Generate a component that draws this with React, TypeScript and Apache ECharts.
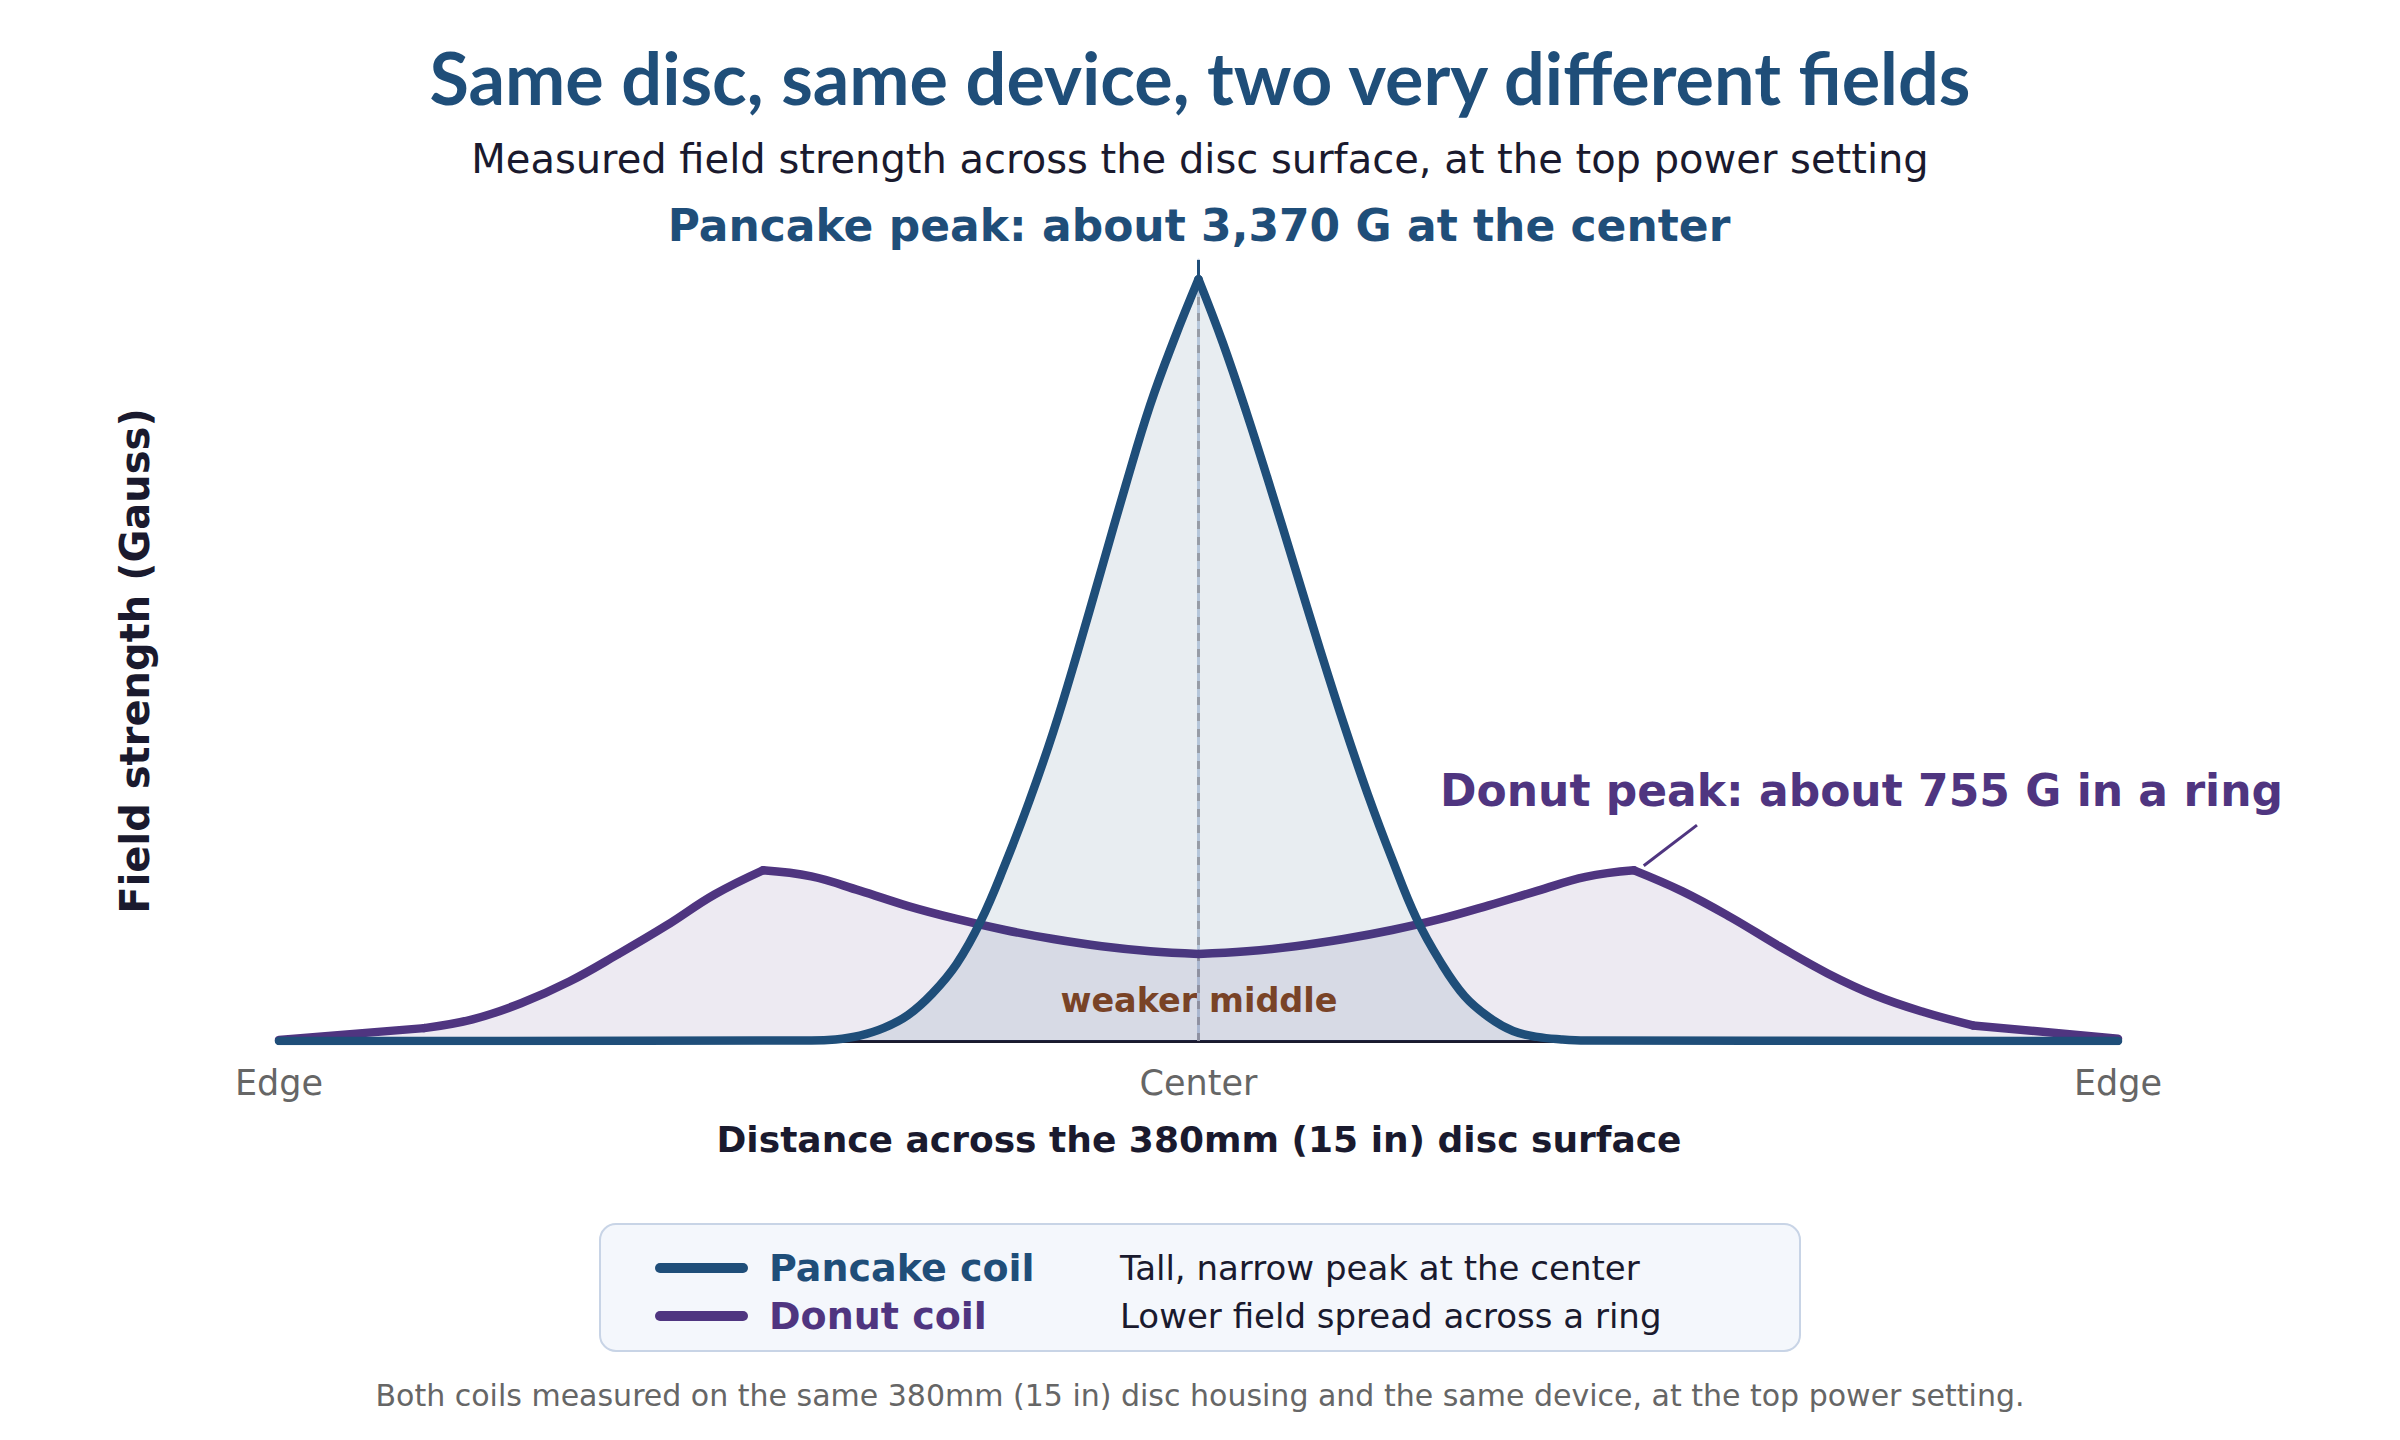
import React, { useEffect, useRef } from "react";
import * as echarts from "echarts";

// ---- data (mm from disc center, Gauss) ----
const tickValues = [-190, 0, 190];
const tickLabels = ["Edge", "Center", "Edge"];

const pancakeX = [-190, -80, -75, -70, -65, -60, -55, -50, -45, -40, -35, -30, -25, -20, -15, -10, -5, 0,
  5, 10, 15, 20, 25, 30, 35, 40, 45, 50, 55, 60, 65, 70, 75, 80, 190];
const pancakeY = [0, 2, 7, 24, 58, 115, 210, 340, 530, 780, 1059, 1368, 1720, 2091, 2462, 2813, 3105, 3370,
  3090, 2775, 2438, 2089, 1740, 1404, 1090, 805, 544, 350, 198, 105, 44, 18, 7, 2, 0];
const pancakeKinks = [0];

const donutX = [-190, -160, -150, -140, -130, -120, -110, -100, -90, -80, -70, -60, -50, -40, -30, -20, -10, 0,
  10, 20, 30, 40, 50, 60, 70, 80, 90, 100, 110, 120, 130, 140, 150, 160, 190];
const donutY = [5, 57, 96, 167, 263, 383, 510, 648, 755, 728, 665, 597, 540, 491, 451, 419, 397, 385,
  397, 419, 451, 491, 540, 600, 664, 726, 755, 662, 547, 419, 299, 200, 127, 69, 10];
const donutKinks = [-160, -90, 0, 90, 160];

const pancakePeak = 3370;
const donutPeakLeader = [[92, 775], [103, 955]];
const yMax = 3455;

const NAVY = "#1f4e79";
const PURPLE = "#4f3580";
const INK = "#1a1a2e";
const FONT = "DejaVu Sans";

function segments(xs: number[], ys: number[], kinks: number[]) {
  const segs: number[][][] = [];
  let cur: number[][] = [];
  xs.forEach((x, i) => {
    cur.push([x, ys[i]]);
    if (kinks.includes(x) && cur.length > 1) {
      segs.push(cur);
      cur = [[x, ys[i]]];
    }
  });
  if (cur.length > 1) segs.push(cur);
  return segs;
}

function curveSeries(name: string, color: string, fill: string, segs: number[][][], z: number) {
  return segs.map((d) => ({
    type: "line",
    name,
    data: d,
    smooth: d.length > 2 ? 0.4 : false,
    symbol: "none",
    silent: true,
    z,
    lineStyle: { color, width: 8.5, cap: "round", join: "round" },
    areaStyle: { color: fill, opacity: 1 },
  }));
}

function txt(text: string, x: number, y: number, font: string, fill: string, align = "center", extra: any = {}) {
  return {
    type: "text",
    x,
    y,
    silent: true,
    ...extra,
    style: {
      text,
      font,
      fill,
      align,
      verticalAlign: "middle",
      textAlign: align,
      textVerticalAlign: "middle",
    },
  };
}

export default function App() {
  const ref = useRef<HTMLDivElement>(null);
  useEffect(() => {
    if (!ref.current) return;
    const chart = echarts.init(ref.current, undefined, { renderer: "svg" });
    const option: any = {
      animation: false,
      backgroundColor: "#ffffff",
      grid: { left: 279, right: 282, top: 260, bottom: 399, containLabel: false },
      xAxis: {
        type: "value",
        min: -190,
        max: 190,
        interval: 190,
        axisLine: { show: true, lineStyle: { color: INK, width: 3 } },
        axisTick: { show: false },
        splitLine: { show: false },
        axisLabel: {
          show: true,
          showMinLabel: true,
          showMaxLabel: true,
          margin: 24,
          fontSize: 35,
          fontFamily: FONT,
          color: "#666666",
          formatter: (v: number) => {
            const i = tickValues.indexOf(v);
            return i >= 0 ? tickLabels[i] : "";
          },
        },
      },
      yAxis: {
        type: "value",
        min: 0,
        max: yMax,
        axisLine: { show: true, lineStyle: { color: "#c8d4e6", width: 3 } },
        axisTick: { show: false },
        axisLabel: { show: false },
        splitLine: { show: false },
      },
      series: [
        {
          type: "line",
          data: [[0, 0], [0, pancakePeak]],
          symbol: "none",
          silent: true,
          z: 1,
          lineStyle: { color: "#a6a6ad", width: 3, type: [8, 8] },
        },
        ...curveSeries("Donut coil", PURPLE, "rgba(79,53,128,0.10)", segments(donutX, donutY, donutKinks), 2),
        ...curveSeries("Pancake coil", NAVY, "rgba(31,78,121,0.10)", segments(pancakeX, pancakeY, pancakeKinks), 3),
        {
          type: "line",
          data: [[0, pancakePeak], [0, yMax]],
          symbol: "none",
          silent: true,
          z: 4,
          lineStyle: { color: NAVY, width: 3 },
        },
        {
          type: "line",
          data: donutPeakLeader,
          symbol: "none",
          silent: true,
          z: 4,
          lineStyle: { color: PURPLE, width: 3 },
        },
      ],
      graphic: [
        txt("Same disc, same device, two very different fields", 1200, 77, `bold 72px Lato`, NAVY),
        txt("Measured field strength across the disc surface, at the top power setting", 1200, 159, `40px '${FONT}'`, INK),
        txt("Pancake peak: about 3,370 G at the center", 1199, 225, `bold 44px '${FONT}'`, NAVY),
        txt("Donut peak: about 755 G in a ring", 1440, 790, `bold 44px '${FONT}'`, PURPLE, "left"),
        txt("weaker middle", 1199, 1000, `bold 33.5px '${FONT}'`, "#8b4513"),
        txt("Field strength (Gauss)", 135, 661, `bold 40px '${FONT}'`, INK, "center", { rotation: Math.PI / 2 }),
        txt("Distance across the 380mm (15 in) disc surface", 1199, 1139, `bold 36px '${FONT}'`, INK),
        {
          type: "rect",
          silent: true,
          shape: { x: 600, y: 1224, width: 1200, height: 127, r: 16 },
          style: { fill: "#f4f7fc", stroke: "#c8d4e6", lineWidth: 2 },
        },
        {
          type: "line",
          silent: true,
          shape: { x1: 660, y1: 1268, x2: 743, y2: 1268 },
          style: { stroke: NAVY, lineWidth: 10, lineCap: "round" },
        },
        {
          type: "line",
          silent: true,
          shape: { x1: 660, y1: 1316, x2: 743, y2: 1316 },
          style: { stroke: PURPLE, lineWidth: 10, lineCap: "round" },
        },
        txt("Pancake coil", 769, 1268, `bold 38px '${FONT}'`, NAVY, "left"),
        txt("Donut coil", 769, 1316, `bold 38px '${FONT}'`, PURPLE, "left"),
        txt("Tall, narrow peak at the center", 1120, 1268, `34px '${FONT}'`, INK, "left"),
        txt("Lower field spread across a ring", 1120, 1316, `34px '${FONT}'`, INK, "left"),
        txt(
          "Both coils measured on the same 380mm (15 in) disc housing and the same device, at the top power setting.",
          1200,
          1395,
          `30px '${FONT}'`,
          "#666666"
        ),
      ],
    };
    chart.setOption(option);
    return () => chart.dispose();
  }, []);
  return (
    <div
      ref={ref}
      style={{ position: "fixed", left: 0, top: 0, width: 2400, height: 1440, background: "#fff" }}
    />
  );
}
